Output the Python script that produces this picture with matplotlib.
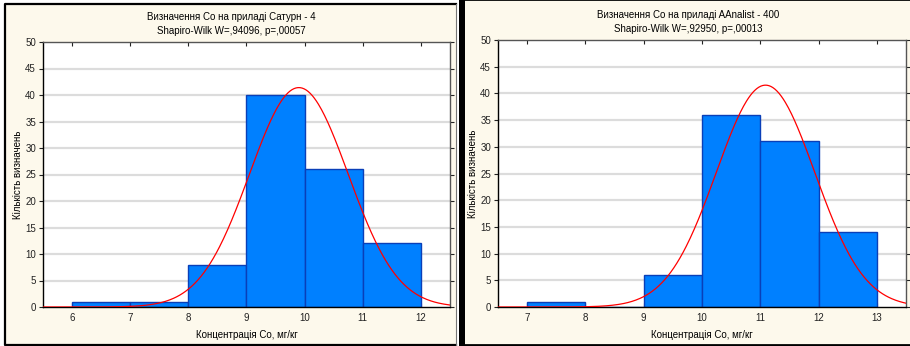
import numpy as np
import matplotlib
matplotlib.use("Agg")
import matplotlib.pyplot as plt
from matplotlib.patches import Rectangle
from matplotlib.lines import Line2D

plt.rcParams["font.family"] = ["Liberation Sans", "DejaVu Sans"]

# --- data ---
left_title = "Визначення Co на приладі Сатурн - 4"
left_test = "Shapiro-Wilk W=,94096, p=,00057"
left_edges = [6, 7, 8, 9, 10, 11, 12]
left_counts = [1, 1, 8, 40, 26, 12]
left_mean, left_sd = 9.90, 0.848

right_title = "Визначення Co на приладі AAnalist - 400"
right_test = "Shapiro-Wilk W=,92950, p=,00013"
right_edges = [7, 8, 9, 10, 11, 12, 13]
right_counts = [1, 0, 6, 36, 31, 14]
right_mean, right_sd = 11.09, 0.845

xlabel = "Концентрація Co, мг/кг"
ylabel = "Кількість визначень"
yticks = [0, 5, 10, 15, 20, 25, 30, 35, 40, 45, 50]

W, H = 910, 346
BG = "#FDF9EC"
BAR = "#0080FF"
BAR_EDGE = "#0A3FB8"


def px(x0, y0, x1, y1):
    # pixel box (top-left origin) -> figure fraction rect
    return [x0 / W, 1 - y1 / H, (x1 - x0) / W, (y1 - y0) / H]


def panel(fig, box, edges, counts, mean, sd, title, test, title_x, title_y):
    ax = fig.add_axes(px(*box))
    ax.set_facecolor("white")
    lefts = edges[:-1]
    ax.bar(lefts, counts, width=1.0, align="edge", color=BAR,
           edgecolor=BAR_EDGE, linewidth=1.0, zorder=2)

    lo, hi = edges[0] - 0.5, edges[-1] + 0.5
    n = sum(counts)
    xs = np.linspace(lo, hi, 400)
    ys = n * 1.0 / (sd * np.sqrt(2 * np.pi)) * np.exp(-0.5 * ((xs - mean) / sd) ** 2)
    ax.plot(xs, ys, color="#FF0000", linewidth=0.9, zorder=3)

    ax.set_xlim(lo, hi)
    ax.set_ylim(0, 50)
    ax.set_xticks(edges)
    ax.set_yticks(yticks)
    ax.tick_params(labelsize=7, colors="#222222", length=3, width=0.8)
    ax.tick_params(axis="x", direction="in", top=True, pad=4)
    ax.tick_params(axis="y", direction="out", right=True, pad=2)
    for t in yticks[1:-1]:
        ax.axhline(t, color="#DCDCDC", linewidth=1.6, zorder=1)
    for s in ["left", "bottom"]:
        ax.spines[s].set_color("black")
        ax.spines[s].set_linewidth(1.0)
    for s in ["top", "right"]:
        ax.spines[s].set_color("#555555")
        ax.spines[s].set_linewidth(1.0)
    ax.set_xlabel(xlabel, fontsize=7, labelpad=5)
    ax.set_ylabel(ylabel, fontsize=7, labelpad=2)

    fig.text(title_x / W, 1 - title_y / H, title, ha="center", va="center", fontsize=7)
    fig.text(title_x / W, 1 - (title_y + 14) / H, test, ha="center", va="center", fontsize=7)
    return ax


def fline(fig, xs, ys, color, lw, z):
    fig.add_artist(Line2D([x / W for x in xs], [1 - y / H for y in ys],
                          transform=fig.transFigure, color=color, linewidth=lw,
                          zorder=z, solid_capstyle="projecting"))


fig = plt.figure(figsize=(W / 100, H / 100), dpi=100)
fig.patch.set_facecolor("white")

# panel backgrounds and frames (behind the axes)
fig.add_artist(Rectangle((5 / W, 1 - 345 / H), (456 - 5) / W, (345 - 4) / H,
                         transform=fig.transFigure, facecolor=BG,
                         edgecolor="none", zorder=-5))
fline(fig, [456, 5, 5, 456], [4, 4, 345, 345], "black", 1.6, -4)
fline(fig, [456, 456], [4, 345], "#777777", 0.8, -4)
fig.add_artist(Rectangle((462 / W, 1 - 345 / H), (912 - 462) / W, 346 / H,
                         transform=fig.transFigure, facecolor=BG,
                         edgecolor="black", linewidth=2.0, zorder=-5))
fig.add_artist(Rectangle((459 / W, 0), 6 / W, 1, transform=fig.transFigure,
                         facecolor="black", edgecolor="none", zorder=-4))

panel(fig, (43, 42, 450, 307), left_edges, left_counts, left_mean, left_sd,
      left_title, left_test, 231, 17)
panel(fig, (498, 40, 906, 307), right_edges, right_counts, right_mean, right_sd,
      right_title, right_test, 688, 15)

fig.savefig("out.png", dpi=100, facecolor=fig.get_facecolor())
